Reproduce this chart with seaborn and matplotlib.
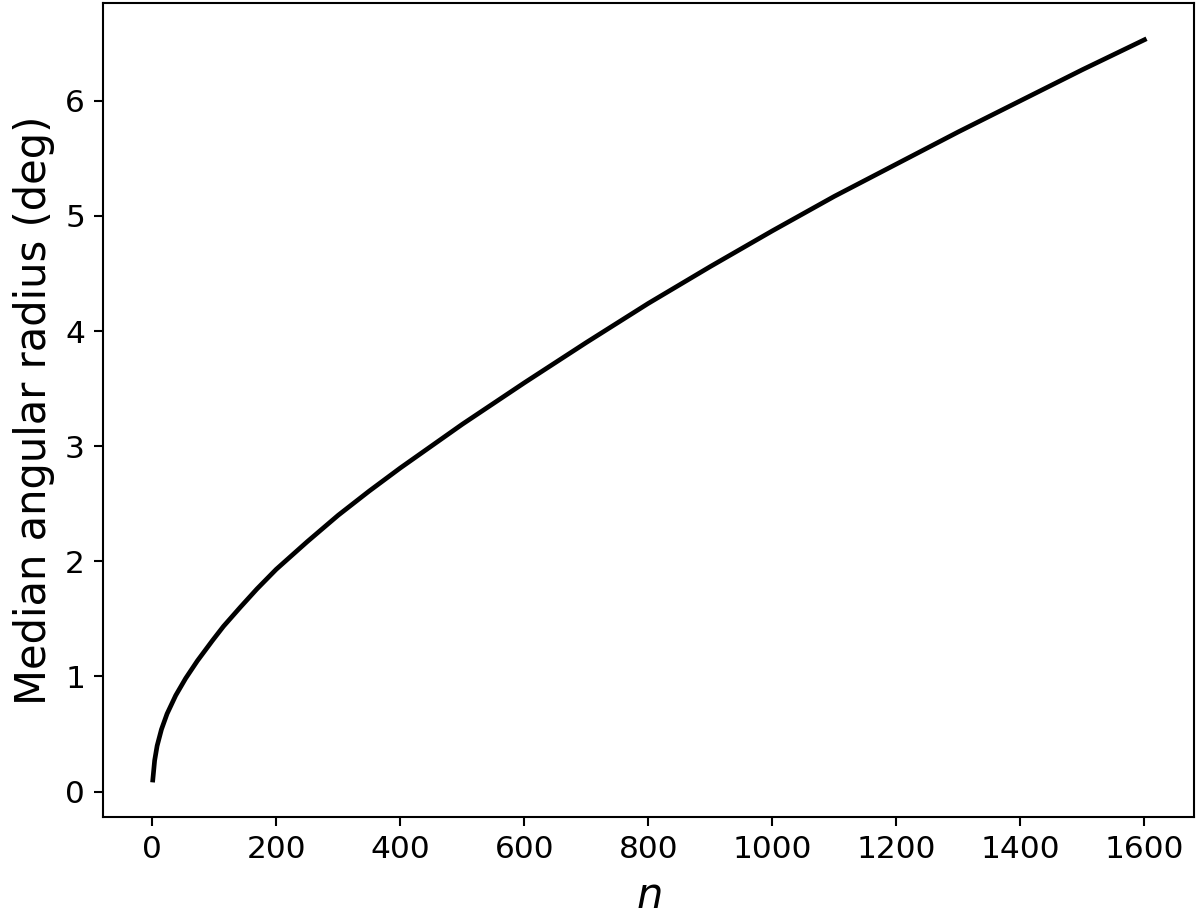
import pandas as pd
import seaborn as sns
import matplotlib
matplotlib.use('Agg')
import matplotlib.pyplot as plt

# values
n_values = [1, 4, 8, 15, 24, 38, 54, 73, 97, 115, 142, 169, 200, 250, 300,
            350, 400, 500, 600, 700, 800, 900, 1000, 1100, 1200, 1300, 1400,
            1500, 1600]
radius_deg = [0.10, 0.27, 0.397, 0.54, 0.675, 0.835, 0.983, 1.136, 1.31,
              1.435, 1.60, 1.76, 1.93, 2.17, 2.40, 2.61, 2.81, 3.19, 3.55,
              3.90, 4.24, 4.56, 4.87, 5.17, 5.45, 5.73, 6.00, 6.27, 6.53]

data = pd.DataFrame({'n': n_values, 'radius': radius_deg})

plt.rcParams['font.family'] = ['DejaVu Sans']
fig = plt.figure(figsize=(6.4, 4.8907), dpi=187.5)
ax = fig.add_axes([0.086, 0.109, 0.909, 0.888])

sns.lineplot(data=data, x='n', y='radius', color='black', linewidth=1.8, ax=ax)

ax.set_xticks(range(0, 1601, 200))
ax.set_yticks(range(0, 7))
ax.tick_params(labelsize=12)
ax.set_xlabel('$n$', fontsize=16)
ax.set_ylabel('Median angular radius (deg)', fontsize=16)

fig.savefig('out.png', dpi=187.5)
